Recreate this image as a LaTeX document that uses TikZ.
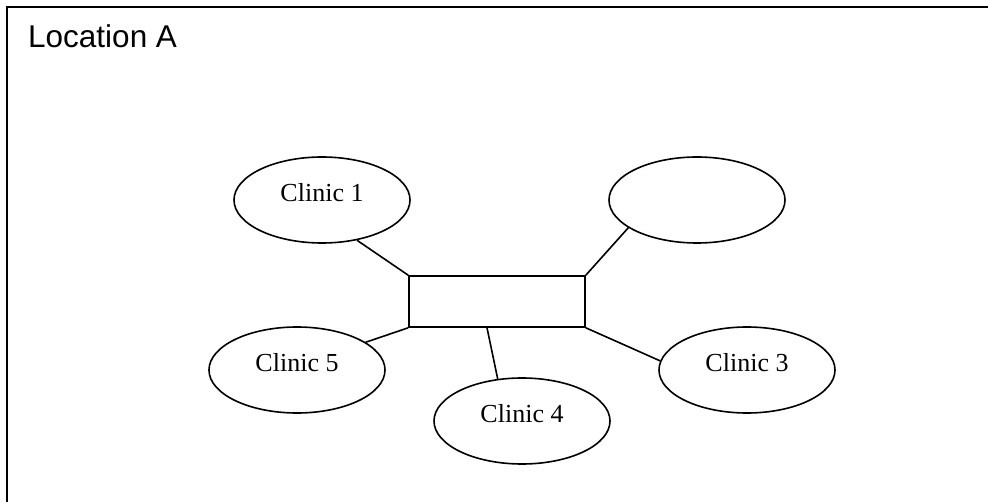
\documentclass[tikz,border=0pt]{standalone}
\usepackage{fontspec}
\setmainfont{Liberation Serif}
\newfontfamily\arialfont{Liberation Sans}
\usetikzlibrary{shapes.geometric}
\tikzset{
  clinic/.style={draw,ellipse,line width=1.6pt,minimum width=176pt,minimum height=86pt,
    inner sep=0pt,text height=12pt,text depth=8pt,font=\fontsize{26}{30}\selectfont},
  hubbox/.style={draw,line width=1.6pt,minimum width=176pt,minimum height=51pt,inner sep=0pt},
  link/.style={line width=1.6pt}
}
\begin{document}
\begin{tikzpicture}[x=1pt,y=-1pt]
    \useasboundingbox (0,0) rectangle (988,502);
    \clip (0,0) rectangle (988,502);
    \draw[line width=1.8pt] (7,7) rectangle (1000,520);
    \node[anchor=base west,inner sep=0pt,font=\arialfont\fontsize{31.5}{38}\selectfont] (loc) at (28,48) {Location A};
    \node[hubbox] (hub) at (497,301.5) {};
    \node[clinic] (c1) at (322,200) {Clinic 1};
    \node[clinic] (c2) at (697,200) {};
    \node[clinic] (c3) at (747,370) {Clinic 3};
    \node[clinic] (c4) at (522,421) {Clinic 4};
    \node[clinic] (c5) at (297,370) {Clinic 5};
    \coordinate (hubfoot) at ([xshift=-10pt]hub.south);
    \draw[link] (c1.-49) -- (hub.north west);
    \draw[link] (c2.202) -- (hub.north east);
    \draw[link] (c3.174) -- (hub.south east);
    \draw[link] (c4.120) -- (hubfoot);
    \draw[link] (c5.22) -- (hub.south west);
  \end{tikzpicture}
\end{document}
